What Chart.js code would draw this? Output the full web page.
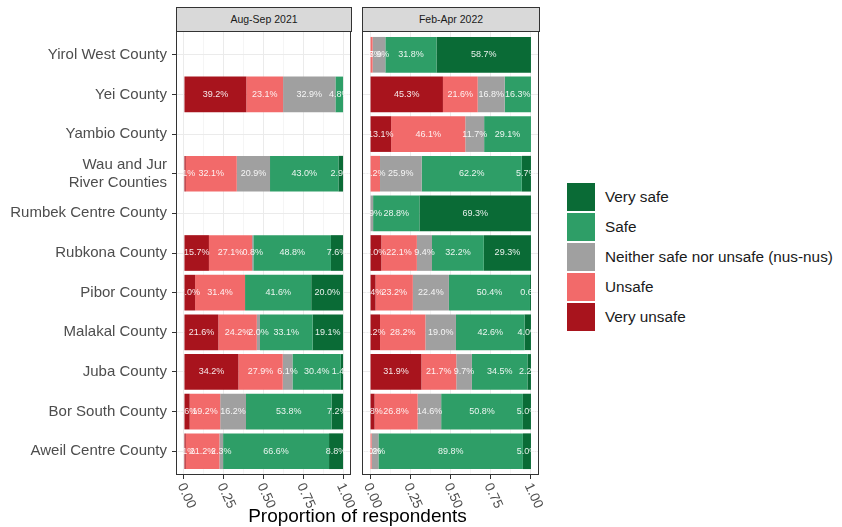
<!DOCTYPE html>
<html>
<head>
<meta charset="utf-8">
<script src="https://cdn.jsdelivr.net/npm/chart.js@4.4.1/dist/chart.umd.min.js"></script>
<style>
  html, body { margin: 0; padding: 0; background: #fff; }
  #wrap { position: relative; width: 842px; height: 527px; overflow: hidden; font-family: "Liberation Sans", Arial, sans-serif; }
  canvas { position: absolute; top: 0; }
  .strip { position: absolute; top: 7px; height: 25px; box-sizing: border-box; background: #d9d9d9; border: 1px solid #333;
           font-size: 10.5px; color: #1a1a1a; text-align: center; line-height: 22px; }
  #legend { position: absolute; left: 567px; top: 183px; }
  .item { height: 30px; position: relative; }
  .key { position: absolute; left: 0; top: 0; width: 28px; height: 28px; }
  .lab { position: absolute; left: 38px; top: 0; line-height: 28px; font-size: 15.3px; color: #1a1a1a; white-space: nowrap; }
  #xtitle { position: absolute; left: 176px; width: 363px; top: 505px; text-align: center; font-size: 19px; color: #000; }
</style>
</head>
<body>
<div id="wrap">
  <canvas id="panel1" width="356" height="527" style="left:0"></canvas>
  <canvas id="panel2" width="190" height="527" style="left:356px"></canvas>
  <div class="strip" style="left:176px;width:176px">Aug-Sep 2021</div>
  <div class="strip" style="left:362px;width:178px">Feb-Apr 2022</div>
  <div id="legend"></div>
  <div id="xtitle">Proportion of respondents</div>
</div>
<script>
// Counties, top to bottom ("\n" marks the wrapped label)
const categories = [
  "Yirol West County", "Yei County", "Yambio County", "Wau and Jur\nRiver Counties",
  "Rumbek Centre County", "Rubkona County", "Pibor County", "Malakal County",
  "Juba County", "Bor South County", "Aweil Centre County"
];

// Aug-Sep 2021 shares (%), same order as categories
const veryUnsafe2021 = [0, 39.2, 0, 1.1, 0, 15.7, 7.0, 21.6, 34.2, 3.6, 1.1];
const unsafe2021     = [0, 23.1, 0, 32.1, 0, 27.1, 31.4, 24.2, 27.9, 19.2, 21.2];
const neither2021    = [0, 32.9, 0, 20.9, 0, 0.8, 0, 2.0, 6.1, 16.2, 2.3];
const safe2021       = [0, 4.8, 0, 43.0, 0, 48.8, 41.6, 33.1, 30.4, 53.8, 66.6];
const verySafe2021   = [0, 0, 0, 2.9, 0, 7.6, 20.0, 19.1, 1.4, 7.2, 8.8];

// Feb-Apr 2022 shares (%)
const veryUnsafe2022 = [0, 45.3, 13.1, 0, 0, 7.0, 3.4, 6.2, 31.9, 2.8, 0];
const unsafe2022     = [1.6, 21.6, 46.1, 6.2, 0, 22.1, 23.2, 28.2, 21.7, 26.8, 1.0];
const neither2022    = [7.9, 16.8, 11.7, 25.9, 1.9, 9.4, 22.4, 19.0, 9.7, 14.6, 4.2];
const safe2022       = [31.8, 16.3, 29.1, 62.2, 28.8, 32.2, 50.4, 42.6, 34.5, 50.8, 89.8];
const verySafe2022   = [58.7, 0, 0, 5.7, 69.3, 29.3, 0.6, 4.0, 2.2, 5.0, 5.0];

// Response levels, left to right in the bars
const levels = ["Very unsafe", "Unsafe", "Neither safe nor unsafe (nus-nus)", "Safe", "Very safe"];
const levelColors = ["#a8141d", "#f26a6a", "#a0a0a0", "#2e9e67", "#0a6b36"];

// x ticks (major every 25, minor grid in between)
const xTicks = [0, 12.5, 25, 37.5, 50, 62.5, 75, 87.5, 100];

const FONT = '"Liberation Sans", Arial, sans-serif';

// white % labels in the middle of each segment, clipped to the panel
const segmentLabels = {
  id: "segmentLabels",
  afterDatasetsDraw(chart) {
    const ctx = chart.ctx;
    const area = chart.chartArea;
    ctx.save();
    ctx.beginPath();
    ctx.rect(area.left, area.top, area.right - area.left, area.bottom - area.top);
    ctx.clip();
    ctx.fillStyle = "rgba(255,255,255,0.9)";
    ctx.font = "9px " + FONT;
    ctx.textAlign = "center";
    ctx.textBaseline = "middle";
    chart.data.datasets.forEach((ds, di) => {
      chart.getDatasetMeta(di).data.forEach((bar, i) => {
        const v = ds.data[i].x;
        if (!v) return;
        ctx.fillText(v.toFixed(1) + "%", (bar.x + bar.base) / 2, bar.y);
      });
    });
    ctx.restore();
  }
};

// panel border + rotated x tick labels (ggplot style, clockwise)
const panelExtras = {
  id: "panelExtras",
  afterDraw(chart) {
    const ctx = chart.ctx;
    const area = chart.chartArea;
    const xs = chart.scales.x;
    ctx.save();
    ctx.strokeStyle = "#333";
    ctx.lineWidth = 1;
    ctx.strokeRect(area.left + 0.5, area.top + 0.5, area.right - area.left - 1, area.bottom - area.top - 1);
    ctx.fillStyle = "#4d4d4d";
    ctx.font = "13.5px " + FONT;
    ctx.textAlign = "left";
    ctx.textBaseline = "middle";
    xTicks.filter(v => v % 25 === 0).forEach(v => {
      ctx.save();
      ctx.translate(xs.getPixelForValue(v) - 3, xs.top + 9);
      ctx.rotate(65 * Math.PI / 180);
      ctx.fillText((v / 100).toFixed(2), 0, 0);
      ctx.restore();
    });
    ctx.restore();
  }
};

function makeDatasets(series) {
  return series.map((values, k) => ({
    label: levels[k],
    data: values.map((v, i) => ({ x: v, y: i })),
    backgroundColor: levelColors[k],
    borderWidth: 0,
    barPercentage: 0.9,
    categoryPercentage: 1.0
  }));
}

function makePanel(canvasId, series, showYLabels, padding) {
  const ctx = document.getElementById(canvasId).getContext("2d");
  return new Chart(ctx, {
    type: "bar",
    data: { datasets: makeDatasets(series) },
    plugins: [segmentLabels, panelExtras],
    options: {
      responsive: false,
      animation: false,
      indexAxis: "y",
      layout: { padding: padding },
      plugins: { legend: { display: false }, tooltip: { enabled: false } },
      scales: {
        x: {
          type: "linear",
          stacked: true,
          min: -5,
          max: 105,
          afterBuildTicks: (scale) => { scale.ticks = xTicks.map(v => ({ value: v })); },
          afterFit: (scale) => { scale.height = 52; },
          ticks: { display: false, autoSkip: false },
          border: { display: false },
          grid: {
            color: "#ebebeb",
            lineWidth: (c) => (c.tick && c.tick.value % 25 === 0 ? 1 : 0.5),
            tickLength: 4,
            tickWidth: 1,
            tickColor: (c) => (c.tick && c.tick.value % 25 === 0 ? "#333" : "rgba(0,0,0,0)")
          }
        },
        y: {
          type: "linear",
          stacked: true,
          reverse: true,
          offset: false,
          min: -0.6,
          max: 10.6,
          afterBuildTicks: (scale) => { scale.ticks = categories.map((c, i) => ({ value: i })); },
          afterFit: (scale) => { scale.width = showYLabels ? 176 : 0; },
          ticks: {
            display: showYLabels,
            autoSkip: false,
            padding: 5,
            color: "#4d4d4d",
            font: { family: FONT, size: 15, lineHeight: 1.2 },
            callback: (value) => categories[value].split("\n")
          },
          border: { display: false },
          grid: {
            offset: false,
            color: "#ebebeb",
            lineWidth: 1,
            drawTicks: showYLabels,
            tickLength: 4,
            tickColor: "#333"
          }
        }
      }
    }
  });
}

makePanel("panel1", [veryUnsafe2021, unsafe2021, neither2021, safe2021, verySafe2021], true,
  { top: 31, right: 5, left: 0, bottom: 0 });
makePanel("panel2", [veryUnsafe2022, unsafe2022, neither2022, safe2022, verySafe2022], false,
  { top: 31, right: 7, left: 6, bottom: 0 });

// Legend, "Very safe" on top like the reference
const legendEl = document.getElementById("legend");
for (let k = levels.length - 1; k >= 0; k--) {
  const item = document.createElement("div");
  item.className = "item";
  item.innerHTML = '<div class="key" style="background:' + levelColors[k] + '"></div><div class="lab"></div>';
  item.querySelector(".lab").textContent = levels[k];
  legendEl.appendChild(item);
}
</script>
</body>
</html>
